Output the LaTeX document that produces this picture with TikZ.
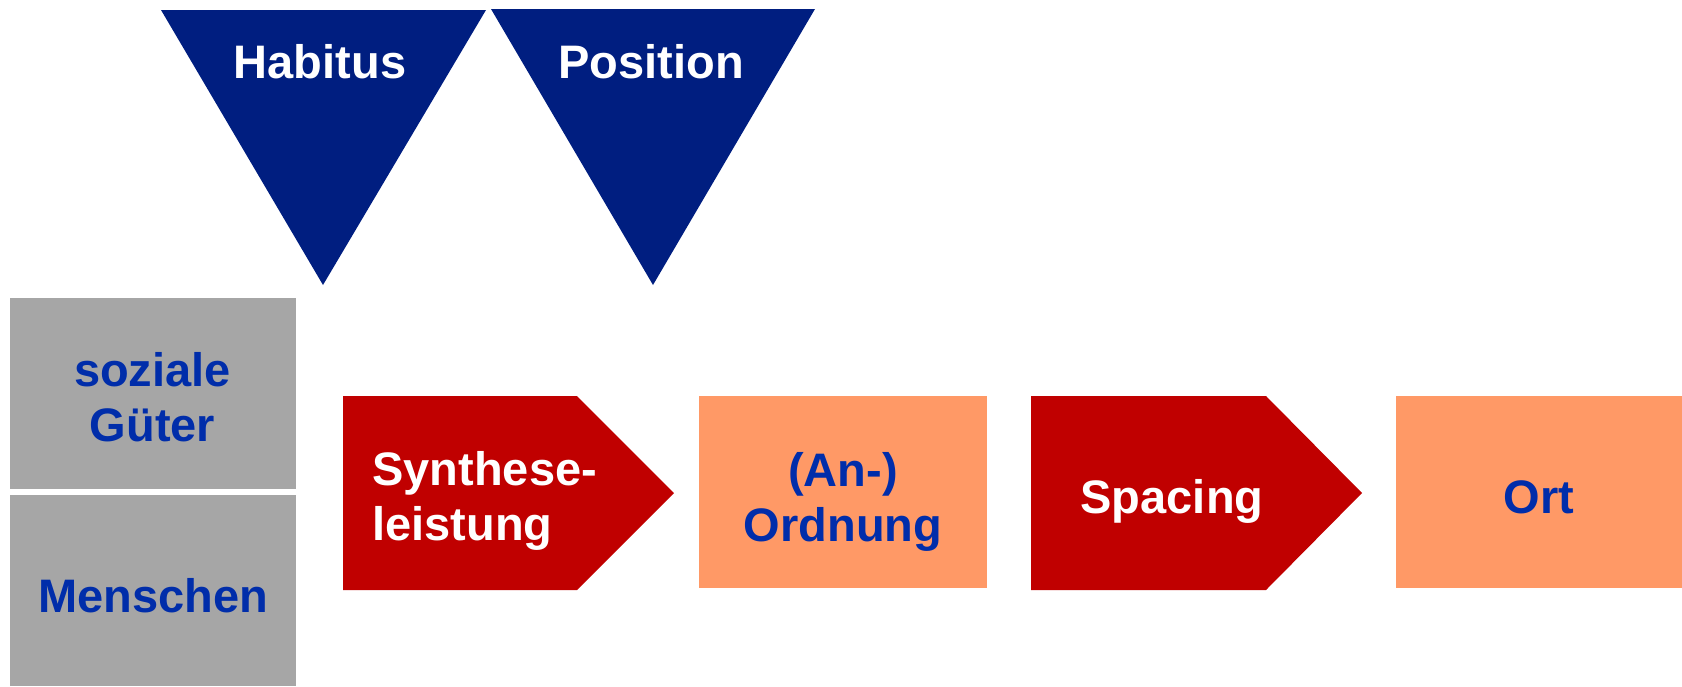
\documentclass[tikz,border=0pt]{standalone}
\usepackage{fontspec}
\setmainfont{Liberation Sans}
\definecolor{navy}{RGB}{0,30,128}
\definecolor{inkblue}{RGB}{0,45,170}
\definecolor{boxgray}{RGB}{166,166,166}
\definecolor{deepred}{RGB}{192,0,0}
\definecolor{salmon}{RGB}{255,153,102}
\tikzset{
  lbl/.style={inner sep=0pt, font=\bfseries\fontsize{23.5}{27.5}\selectfont},
  whitelbl/.style={lbl, text=white},
  bluelbl/.style={lbl, text=inkblue},
}
\begin{document}
\begin{tikzpicture}[x=0.5pt, y=-0.5pt]
  \useasboundingbox (0,0) rectangle (1682,686);

  % inverted triangles
  \fill[navy] (161,10) -- (486,10) -- (323,285) -- cycle;
  \fill[navy] (491,9) -- (815,9) -- (653,285) -- cycle;

  % grey boxes on the left
  \fill[boxgray] (10,298) rectangle (296,489);
  \fill[boxgray] (10,495) rectangle (296,686);

  % pentagon arrows
  \fill[deepred] (343,396) -- (577,396) -- (674,493) -- (577,590) -- (343,590) -- cycle;
  \fill[deepred] (1031,396) -- (1266,396) -- (1362,493) -- (1266,590) -- (1031,590) -- cycle;

  % result boxes
  \fill[salmon] (699,396) rectangle (987,588);
  \fill[salmon] (1396,396) rectangle (1682,588);

  % labels
  \node[whitelbl, anchor=base] (habitus) at (320,78) {Habitus};
  \node[whitelbl, anchor=base] (position) at (651,78) {Position};
  \node[bluelbl, align=center] (gueter) at (152.5,397.5) {soziale\\Güter};
  \node[bluelbl, anchor=base] (menschen) at (153,612) {Menschen};
  \node[whitelbl, align=left, anchor=west] (synthese) at (372,501) {Synthese-\\leistung};
  \node[bluelbl, align=center] (ordnung) at (843,502) {(An-)\\Ordnung};
  \node[whitelbl, anchor=base] (spacing) at (1172,513) {Spacing};
  \node[bluelbl, anchor=base] (ort) at (1539,513) {Ort};
\end{tikzpicture}
\end{document}
